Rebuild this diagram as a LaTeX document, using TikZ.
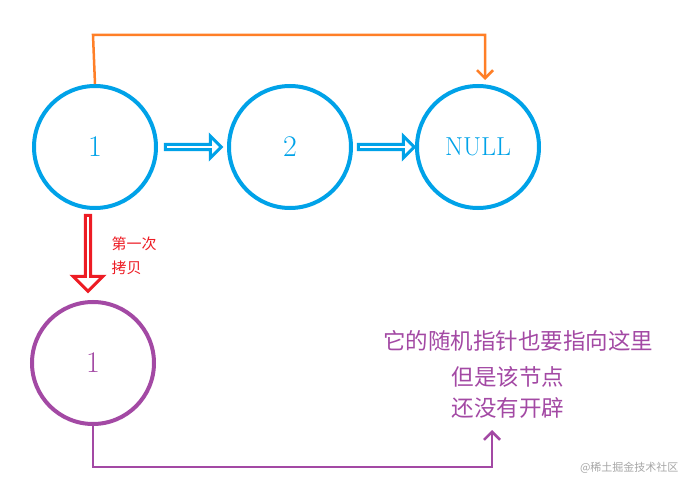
\documentclass[tikz,border=0pt]{standalone}
\usepackage{fontspec}
\newfontfamily\cjk{Noto Sans CJK SC}
\usetikzlibrary{shapes.arrows,arrows.meta}
\definecolor{cblue}{RGB}{0,162,232}
\definecolor{corange}{RGB}{255,127,39}
\definecolor{cpurple}{RGB}{163,73,164}
\definecolor{cred}{RGB}{237,28,36}
\tikzset{
 circ/.style={circle,draw=cblue,line width=4pt,minimum size=122pt,inner sep=0pt,text=cblue,font=\fontsize{30}{32}\selectfont},
 hollow/.style={single arrow,draw=cblue,line width=3pt,single arrow head extend=5pt,minimum height=55pt,minimum width=22pt,inner sep=0pt,single arrow tip angle=90},
 ptext/.style={text=cpurple,font=\cjk\fontsize{22.5}{26}\selectfont,align=center},
}
\begin{document}
\begin{tikzpicture}[x=1pt,y=-1pt]
\useasboundingbox (0,0) rectangle (689,492);
\node[circ] (a) at (95,147) {1};
\node[circ] (b) at (290,147) {2};
\node[circ,font=\fontsize{26}{28}\selectfont] (c) at (478,147) {NULL};
\node[circ,draw=cpurple,text=cpurple] (d) at (93,363) {1};
\node[hollow,minimum height=56pt] (h1) at (192,147) {};
\node[hollow,minimum height=56pt] (h2) at (385,147) {};
\node[hollow,draw=cred,line width=3pt,rotate=-90,minimum height=76pt,minimum width=30pt,single arrow head extend=7pt] (h3) at (88,252) {};
\node[text=cred,font=\cjk\fontsize{15}{24}\selectfont,align=left,anchor=west] (t1) at (108,256) {第一次\\拷贝};
\coordinate (o1) at (485,80);
\draw[corange,line width=2.5pt,-{Straight Barb[length=8pt,width=16pt]}] (a.north) -- (93,35) -| (o1);
\node[ptext] (p1) at (518,341) {它的随机指针也要指向这里};
\node[ptext] (p2) at (508,377) {但是该节点};
\node[ptext] (p3) at (508,408) {还没有开辟};
\coordinate (o2) at (492,430);
\draw[cpurple,line width=2.5pt,-{Straight Barb[length=8pt,width=16pt]}] (d.south) -- (93,467) -| (o2);
\node[text=gray!70,font=\cjk\fontsize{11}{12}\selectfont,anchor=east] (w) at (682,468) {@稀土掘金技术社区};
\end{tikzpicture}
\end{document}
